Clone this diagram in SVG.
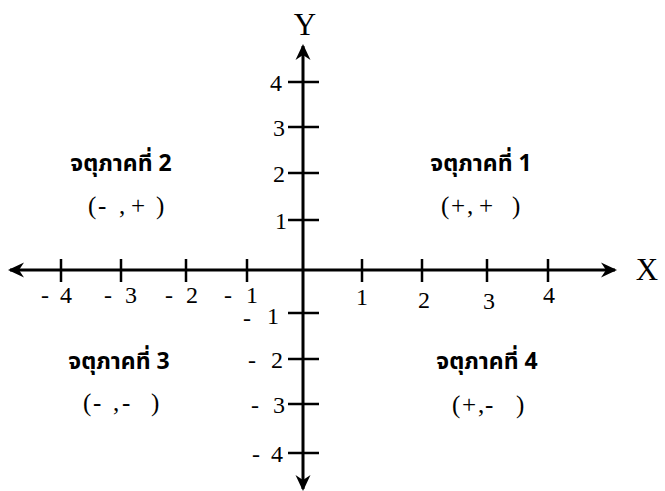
<svg xmlns="http://www.w3.org/2000/svg" width="665" height="491" viewBox="0 0 665 491">
<style>
.ax{stroke:#000;stroke-width:3;fill:none}
.tk{stroke:#000;stroke-width:2.5;fill:none}
.num{font-family:"Liberation Serif","Times New Roman",serif;font-size:24px;fill:#000;text-anchor:middle}
.axl{font-family:"Liberation Serif","Times New Roman",serif;font-size:31px;fill:#000}
.th{font-family:"Noto Sans Thai","Tahoma","DejaVu Sans","Noto Sans",sans-serif;font-size:23px;font-weight:bold;fill:#000;text-anchor:middle}
.sg{font-family:"Liberation Serif","Times New Roman",serif;font-size:25px;fill:#000}
</style>
<defs>
<marker id="ah" viewBox="0 0 16 16" refX="14" refY="8" markerWidth="16" markerHeight="16" markerUnits="userSpaceOnUse" orient="auto-start-reverse">
<path d="M0,0.5 L16,8 L0,15.5 L5,8 Z" fill="#000"/>
</marker>
</defs>
<g id="connectors">
<line class="ax" x1="10" y1="270" x2="615" y2="270" marker-start="url(#ah)" marker-end="url(#ah)"/>
<line class="ax" x1="303" y1="489" x2="303" y2="46" marker-start="url(#ah)" marker-end="url(#ah)"/>
</g>
<g id="x-ticks">
<path class="tk" d="M61,259V282M121,259V282M186,259V282M247,259V282M362,259V282M422,259V282M487,259V282M548,259V282"/>
</g>
<g id="y-ticks">
<path class="tk" d="M288,82H319M288,127H319M288,173H319M288,220H319M288,313H319M288,359H319M288,404H319M288,453H319"/>
</g>
<g id="axis-labels">
<text class="axl" x="305" y="35" text-anchor="middle">Y</text>
<text class="axl" x="647" y="280" text-anchor="middle">X</text>
</g>
<g id="x-labels" class="num">
<text x="45" y="303">-</text><text x="66" y="303">4</text>
<text x="108" y="303">-</text><text x="131" y="303">3</text>
<text x="169" y="303">-</text><text x="192" y="303">2</text>
<text x="228" y="303">-</text><text x="252" y="303">1</text>
<text x="362" y="305">1</text>
<text x="424" y="308">2</text>
<text x="489" y="309">3</text>
<text x="549" y="303">4</text>
</g>
<g id="y-labels" class="num">
<text x="276" y="91">4</text>
<text x="279" y="136">3</text>
<text x="279" y="182">2</text>
<text x="281" y="229">1</text>
<text x="247" y="326">-</text><text x="273" y="324">1</text>
<text x="252" y="368">-</text><text x="277" y="368">2</text>
<text x="255" y="413">-</text><text x="279" y="413">3</text>
<text x="256" y="462">-</text><text x="277" y="462">4</text>
</g>
<g id="q2">
<text class="th" x="121" y="171">จตุภาคที่ 2</text>
<text class="sg" y="214"><tspan x="88">(</tspan><tspan x="98">-</tspan><tspan x="119">,</tspan><tspan x="131">+</tspan><tspan x="156">)</tspan></text>
</g>
<g id="q1">
<text class="th" x="481" y="171">จตุภาคที่ 1</text>
<text class="sg" y="214"><tspan x="441">(</tspan><tspan x="451">+</tspan><tspan x="467">,</tspan><tspan x="479">+</tspan><tspan x="512">)</tspan></text>
</g>
<g id="q3">
<text class="th" x="119" y="369">จตุภาคที่ 3</text>
<text class="sg" y="411"><tspan x="83">(</tspan><tspan x="93">-</tspan><tspan x="113">,</tspan><tspan x="122">-</tspan><tspan x="151">)</tspan></text>
</g>
<g id="q4">
<text class="th" x="487" y="369">จตุภาคที่ 4</text>
<text class="sg" y="413"><tspan x="452">(</tspan><tspan x="462">+</tspan><tspan x="478">,</tspan><tspan x="485">-</tspan><tspan x="516">)</tspan></text>
</g>
</svg>
